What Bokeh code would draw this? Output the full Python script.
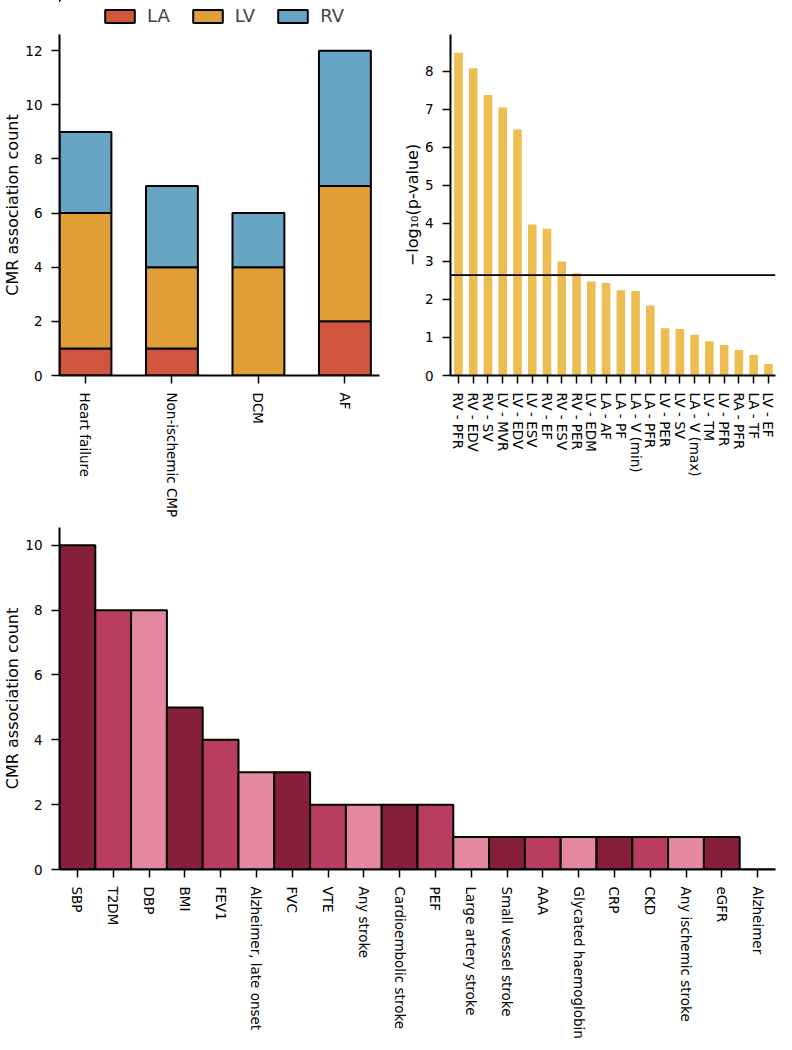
from bokeh.plotting import figure
from bokeh.layouts import column, row
from bokeh.models import Legend, LegendItem, Span, FixedTicker, ColumnDataSource, Range1d
from bokeh.embed import file_html
from bokeh.resources import INLINE

# ---------------- data ----------------
# top-left: stacked association counts by chamber
diseases = ["Heart failure", "Non-ischemic CMP", "DCM", "AF"]
chambers = ["LA", "LV", "RV"]
la_counts = [1, 1, 0, 2]
lv_counts = [5, 3, 4, 5]
rv_counts = [3, 3, 2, 5]
chamber_colors = ["#d05640", "#e09e36", "#68a5c4"]
counts_ticks_top = [0, 2, 4, 6, 8, 10, 12]

# top-right: -log10 p-values per trait
traits = ["RV - PFR", "RV - EDV", "RV - SV", "LV - MVR", "LV - EDV", "LV - ESV",
          "RV - EF", "RV - ESV", "RV - PER", "LV - EDM", "LA - AF", "LA - PF",
          "LA - V (min)", "LA - PFR", "LV - PER", "LV - SV", "LA - V (max)",
          "LV - TM", "LV - PFR", "RA - PFR", "LA - TF", "LV - EF"]
neglog_p = [8.49, 8.08, 7.38, 7.05, 6.47, 3.97, 3.86, 3.00, 2.69, 2.47, 2.43,
            2.24, 2.22, 1.84, 1.24, 1.22, 1.07, 0.90, 0.80, 0.67, 0.54, 0.30]
threshold = 2.64
pval_color = "#ecbd50"
pval_ticks = [0, 1, 2, 3, 4, 5, 6, 7, 8]

# bottom: association counts per phenotype
phenotypes = ["SBP", "T2DM", "DBP", "BMI", "FEV1", "Alzheimer, late onset", "FVC",
              "VTE", "Any stroke", "Cardioembolic stroke", "PEF", "Large artery stroke",
              "Small vessel stroke", "AAA", "Glycated haemoglobin", "CRP", "CKD",
              "Any ischemic stroke", "eGFR", "Alzheimer"]
pheno_counts = [10, 8, 8, 5, 4, 3, 3, 2, 2, 2, 2, 1, 1, 1, 1, 1, 1, 1, 1, 0]
pheno_palette = ["#851f3b", "#b83d60", "#e487a0"]
counts_ticks_bottom = [0, 2, 4, 6, 8, 10]

FONT = "DejaVu Sans"


def style(p):
    p.outline_line_color = None
    p.xgrid.visible = False
    p.ygrid.visible = False
    p.background_fill_color = "white"
    p.border_fill_color = "white"
    for ax in (p.xaxis[0], p.yaxis[0]):
        ax.axis_line_width = 2
        ax.axis_line_color = "black"
        ax.major_tick_line_width = 1.5
        ax.major_tick_line_color = "black"
        ax.major_tick_out = 8
        ax.major_tick_in = 0
        ax.minor_tick_line_color = None
        ax.major_label_text_font = FONT
        ax.major_label_text_font_size = "13.5px"
        ax.major_label_text_color = "black"
        ax.major_label_standoff = 9
        ax.axis_label_text_font = FONT
        ax.axis_label_text_font_size = "16px"
        ax.axis_label_text_font_style = "normal"
        ax.axis_label_text_color = "black"
        ax.axis_label_standoff = 0
    p.xaxis.major_label_orientation = "vertical"


src1 = ColumnDataSource(dict(x=list(range(len(diseases))), LA=la_counts, LV=lv_counts, RV=rv_counts))

# ---------------- legend strip (above top-left) ----------------
# the strip holds the same stacked bars, scrolled out of its view,
# so only its legend is visible
leg_fig = figure(width=384, height=27, output_backend="svg", toolbar_location=None,
                 x_axis_location=None, y_axis_location=None,
                 x_range=Range1d(20, 21), y_range=Range1d(-21, -20),
                 min_border_left=0, min_border_right=0, min_border_top=0, min_border_bottom=0)
leg_fig.outline_line_color = None
leg_fig.grid.visible = False
leg_rs = leg_fig.vbar_stack(chambers, x="x", width=0.6, source=src1, fill_color=chamber_colors,
                            line_color="black", line_width=2)
legend = Legend(items=[LegendItem(label=c, renderers=[r]) for c, r in zip(chambers, leg_rs)],
                orientation="horizontal", location=(42, 1), margin=0, padding=0,
                spacing=19, glyph_width=37, glyph_height=16, label_height=16,
                label_standoff=9, label_text_font=FONT, label_text_font_size="18px",
                label_text_baseline="middle",
                border_line_color=None, background_fill_alpha=0)
leg_fig.add_layout(legend)

# ---------------- top-left ----------------
p1 = figure(width=384, height=494, output_backend="svg", toolbar_location=None,
            x_range=Range1d(-0.3, len(diseases) - 1 + 0.4), y_range=Range1d(0, 12.6),
            min_border_left=54, min_border_right=5, min_border_top=7, min_border_bottom=146)
p1.vbar_stack(chambers, x="x", width=0.6, source=src1, fill_color=chamber_colors,
              line_color="black", line_width=2)
style(p1)
p1.yaxis.axis_label = "CMR association count"
p1.yaxis.ticker = FixedTicker(ticks=counts_ticks_top)
p1.xaxis.ticker = FixedTicker(ticks=list(range(len(diseases))))
p1.xaxis.major_label_overrides = {i: d for i, d in enumerate(diseases)}

# ---------------- top-right ----------------
src2 = ColumnDataSource(dict(x=list(range(len(traits))), y=neglog_p))
p2 = figure(width=392, height=521, output_backend="svg", toolbar_location=None,
            x_range=Range1d(-0.54, len(traits) - 1 + 0.48), y_range=Range1d(0, 8.97),
            min_border_left=66, min_border_right=1, min_border_top=34, min_border_bottom=146)
p2.vbar(x="x", top="y", width=0.58, source=src2, fill_color=pval_color, line_color=None)
p2.add_layout(Span(location=threshold, dimension="width", line_color="black", line_width=1.8))
style(p2)
p2.yaxis.axis_label = "\u2212log\u2081\u2080(p-value)"
p2.yaxis.ticker = FixedTicker(ticks=pval_ticks)
p2.xaxis.ticker = FixedTicker(ticks=list(range(len(traits))))
p2.xaxis.major_label_overrides = {i: t for i, t in enumerate(traits)}

# ---------------- bottom ----------------
colors3 = [pheno_palette[i % 3] for i in range(len(phenotypes))]
src3 = ColumnDataSource(dict(x=list(range(len(phenotypes))), y=pheno_counts, c=colors3))
p3 = figure(width=776, height=522, output_backend="svg", toolbar_location=None,
            x_range=Range1d(-0.5, len(phenotypes) - 0.5), y_range=Range1d(0, 10.55),
            min_border_left=54, min_border_right=1, min_border_top=6, min_border_bottom=174)
p3.vbar(x="x", top="y", width=1.0, source=src3, fill_color="c", line_color="black", line_width=2)
style(p3)
p3.yaxis.axis_label = "CMR association count"
p3.yaxis.ticker = FixedTicker(ticks=counts_ticks_bottom)
p3.xaxis.ticker = FixedTicker(ticks=list(range(len(phenotypes))))
p3.xaxis.major_label_overrides = {i: t for i, t in enumerate(phenotypes)}

layout = column(row(column(leg_fig, p1), p2), p3)
open("out.html", "w").write(file_html(layout, INLINE))
